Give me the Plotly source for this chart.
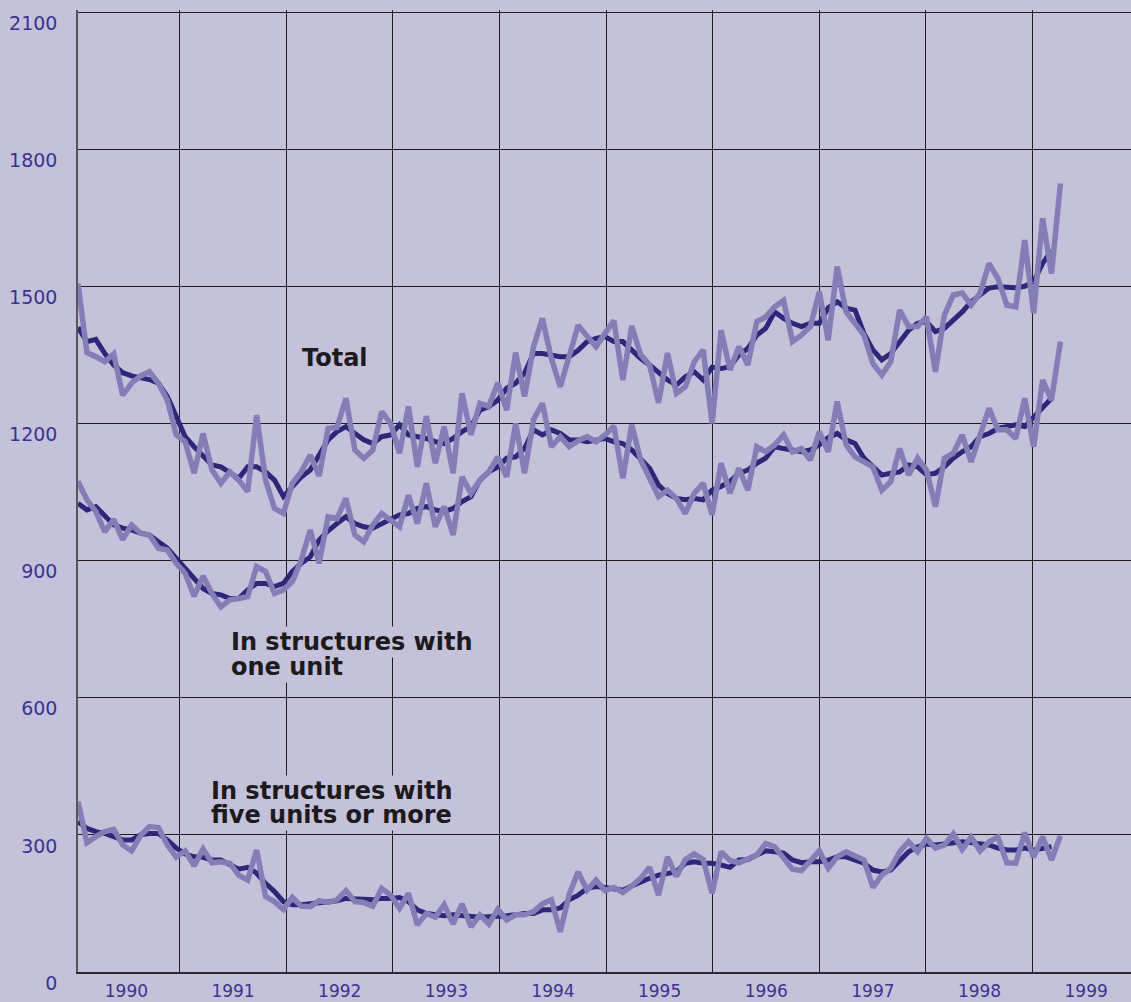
import plotly.graph_objects as go

# ---- data (monthly, Jan 1990 .. Mar 1999), thousands of units, SAAR ----
years = ["1990", "1991", "1992", "1993", "1994", "1995", "1996", "1997", "1998", "1999"]
y_ticks = [0, 300, 600, 900, 1200, 1500, 1800, 2100]

total_monthly = [1506, 1355, 1346, 1335, 1352, 1262, 1288, 1304, 1313, 1288, 1251, 1175,
                 1160, 1091, 1178, 1098, 1069, 1094, 1076, 1051, 1218, 1076, 1014, 1003,
                 1069, 1094, 1131, 1085, 1189, 1191, 1255, 1142, 1124, 1142, 1226, 1200,
                 1135, 1237, 1105, 1216, 1113, 1193, 1091, 1266, 1175, 1244, 1237, 1289,
                 1229, 1355, 1259, 1368, 1430, 1342, 1280, 1346, 1415, 1391, 1368, 1397,
                 1425, 1295, 1413, 1350, 1328, 1245, 1354, 1266, 1280, 1335, 1361, 1200,
                 1404, 1317, 1368, 1328, 1423, 1433, 1455, 1469, 1379, 1393, 1412, 1488,
                 1382, 1543, 1444, 1419, 1393, 1331, 1306, 1335, 1448, 1412, 1412, 1433,
                 1313, 1437, 1481, 1485, 1459, 1485, 1550, 1517, 1459, 1455, 1601, 1441,
                 1649, 1528, 1725]
total_trend = [1410, 1379, 1384, 1353, 1328, 1311, 1304, 1301, 1296, 1288, 1259, 1215,
               1171, 1149, 1127, 1109, 1105, 1091, 1080, 1105, 1105, 1094, 1076, 1040,
               1062, 1083, 1098, 1133, 1164, 1182, 1193, 1178, 1164, 1156, 1171, 1175,
               1197, 1175, 1171, 1167, 1160, 1156, 1167, 1182, 1193, 1229, 1237, 1251,
               1277, 1288, 1310, 1353, 1353, 1350, 1346, 1346, 1360, 1379, 1386, 1390,
               1379, 1379, 1361, 1342, 1328, 1313, 1295, 1284, 1302, 1313, 1295, 1323,
               1320, 1324, 1350, 1364, 1393, 1408, 1444, 1430, 1419, 1412, 1419, 1419,
               1453, 1466, 1452, 1448, 1397, 1361, 1339, 1353, 1379, 1404, 1419, 1423,
               1401, 1408, 1426, 1444, 1466, 1481, 1496, 1499, 1497, 1497, 1500, 1510,
               1550, 1578]

one_unit_monthly = [1073, 1033, 1007, 963, 990, 946, 978, 960, 956, 927, 923, 894,
                    872, 822, 866, 828, 799, 814, 817, 821, 887, 876, 828, 836,
                    854, 901, 967, 894, 996, 992, 1036, 956, 941, 978, 1003, 989,
                    974, 1043, 981, 1069, 974, 1018, 956, 1083, 1047, 1076, 1094, 1127,
                    1083, 1200, 1091, 1208, 1244, 1149, 1171, 1149, 1162, 1171, 1160, 1175,
                    1194, 1080, 1197, 1120, 1080, 1040, 1054, 1036, 1003, 1047, 1069, 1000,
                    1113, 1047, 1102, 1054, 1149, 1138, 1153, 1175, 1138, 1145, 1120, 1182,
                    1138, 1248, 1153, 1127, 1116, 1105, 1054, 1073, 1145, 1087, 1124, 1098,
                    1018, 1124, 1135, 1175, 1116, 1171, 1233, 1186, 1186, 1167, 1255, 1149,
                    1295, 1251, 1379]
one_unit_trend = [1025, 1011, 1018, 996, 978, 971, 967, 960, 956, 941, 927, 905,
                  883, 861, 839, 828, 825, 817, 817, 836, 850, 850, 843, 850,
                  876, 894, 908, 945, 965, 981, 996, 981, 974, 971, 981, 989,
                  1000, 1003, 1014, 1018, 1011, 1007, 1014, 1029, 1040, 1076, 1094, 1105,
                  1124, 1127, 1145, 1186, 1175, 1186, 1178, 1164, 1164, 1160, 1164, 1167,
                  1160, 1156, 1142, 1120, 1102, 1065, 1047, 1036, 1033, 1036, 1033, 1054,
                  1062, 1073, 1091, 1098, 1113, 1124, 1149, 1145, 1142, 1138, 1142, 1153,
                  1169, 1178, 1164, 1156, 1124, 1105, 1087, 1091, 1094, 1109, 1105, 1088,
                  1091, 1105, 1124, 1138, 1149, 1171, 1178, 1189, 1193, 1197, 1193, 1215,
                  1237, 1255]

five_plus_monthly = [373, 283, 296, 307, 312, 278, 265, 298, 318, 316, 278, 251,
                     265, 232, 269, 239, 241, 238, 212, 201, 267, 165, 154, 137,
                     163, 144, 143, 156, 152, 158, 178, 154, 152, 144, 183, 168,
                     139, 172, 103, 128, 120, 147, 105, 149, 99, 125, 105, 137,
                     114, 125, 125, 132, 149, 158, 88, 170, 219, 179, 201, 178,
                     185, 174, 188, 205, 229, 168, 252, 209, 246, 258, 246, 172,
                     263, 244, 239, 246, 256, 281, 274, 249, 225, 222, 245, 265,
                     227, 252, 263, 254, 245, 185, 212, 227, 263, 285, 263, 292,
                     271, 278, 302, 268, 295, 265, 285, 295, 239, 238, 305, 251,
                     296, 245, 298]
five_plus_trend = [329, 314, 307, 303, 296, 289, 289, 300, 303, 303, 289, 271,
                   258, 252, 251, 245, 245, 236, 225, 229, 216, 194, 176, 154,
                   147, 147, 149, 152, 154, 156, 161, 161, 159, 158, 161, 161,
                   163, 154, 136, 128, 125, 123, 125, 123, 121, 120, 121, 121,
                   123, 125, 128, 128, 136, 136, 140, 158, 168, 183, 187, 185,
                   183, 179, 188, 198, 205, 212, 216, 219, 238, 241, 238, 238,
                   234, 229, 245, 246, 256, 265, 263, 260, 245, 239, 241, 241,
                   245, 252, 252, 246, 238, 223, 219, 223, 245, 263, 274, 280,
                   278, 280, 283, 285, 283, 281, 278, 271, 267, 267, 271, 267,
                   271, 274]

# month index: 0 = January 1990
months = list(range(len(total_monthly)))
trend_months = list(range(len(total_trend)))

BG = "#c4c2da"
DARK = "#2e2679"
LIGHT = "#857db6"
TICK = "#3a3390"

fig = go.Figure()
for ys in (total_trend, one_unit_trend, five_plus_trend):
    fig.add_trace(go.Scatter(x=trend_months, y=ys, mode="lines",
                             line=dict(color=DARK, width=5), hoverinfo="skip"))
for ys in (total_monthly, one_unit_monthly, five_plus_monthly):
    fig.add_trace(go.Scatter(x=months, y=ys, mode="lines",
                             line=dict(color=LIGHT, width=5.5), hoverinfo="skip"))

year_step = 11.94
boundaries = [11.36 + year_step * k for k in range(9)]
centers = [5.42 + year_step * k for k in range(len(years))]

fig.update_layout(
    width=1131, height=1002,
    margin=dict(l=78, r=0, t=10, b=30, autoexpand=False),
    paper_bgcolor=BG, plot_bgcolor=BG,
    showlegend=False,
    font=dict(family="DejaVu Sans", color=TICK),
    xaxis=dict(
        range=[0, 117.9], tickmode="array", tickvals=centers, ticktext=years,
        showgrid=False, ticks="", tickfont=dict(size=17, color=TICK),
        showline=True, linecolor="#2a2a30", linewidth=1.5, zeroline=False,
        ticklabelstandoff=3, automargin=False,
        minor=dict(tickmode="array", tickvals=boundaries, showgrid=True,
                   gridcolor="#1e1e22", gridwidth=1.3, ticks=""),
    ),
    yaxis=dict(
        range=[0, 2104.4], tickmode="array", tickvals=y_ticks,
        ticktext=[str(v) for v in y_ticks],
        showgrid=True, gridcolor="#1e1e22", gridwidth=1.3,
        ticks="", tickfont=dict(size=19, color=TICK),
        showline=True, linecolor="#55555c", linewidth=1.5, zeroline=False,
        ticklabelstandoff=15, ticklabelshift=11, automargin=False,
    ),
)

label_font = dict(family="DejaVu Sans", size=24, color="#1c1a1c", weight="bold")
labels = [
    ("Total", 24.9, 1343),
    ("In structures with", 16.95, 721),
    ("one unit", 16.95, 667),
    ("In structures with", 14.7, 397),
    ("five units or more", 14.7, 343),
]
for text, lx, ly in labels:
    fig.add_annotation(x=lx, y=ly, xref="x", yref="y", text=text, showarrow=False,
                       xanchor="left", yanchor="middle", font=label_font,
                       bgcolor=BG, borderpad=1)

fig.write_html(
    "out.html",
    config={"displayModeBar": False},
    post_script="document.body.style.margin='0';document.body.style.background='%s';" % BG,
)
